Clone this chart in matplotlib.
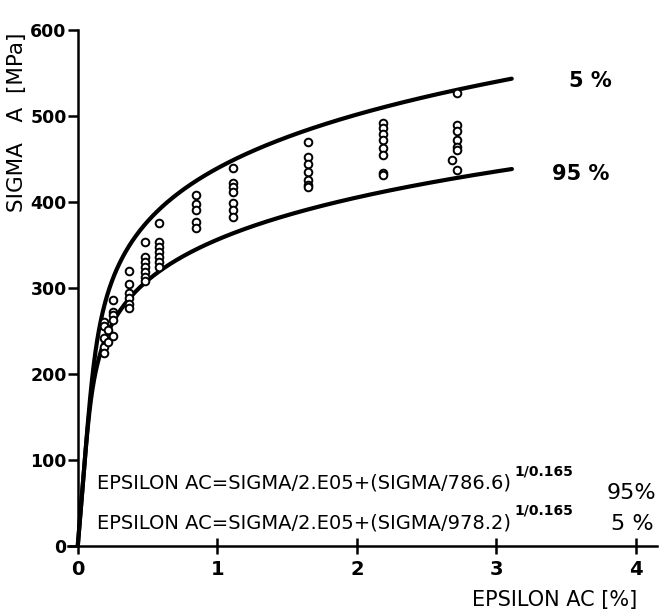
import numpy as np
import matplotlib.pyplot as plt

# fit constants written on the chart
E_MOD = 2.0e05
K_95 = 786.6
K_5 = 978.2
N_EXP = 0.165
EPS_END = 3.12   # curves stop here [%]

# test results, one column of points per strain level
col_eps = [0.19, 0.215, 0.25, 0.37, 0.48, 0.58, 0.85, 1.11, 1.65, 2.19, 2.68, 2.72]
col_sigma = [
    [260, 256, 242, 231, 224],
    [251, 237],
    [286, 272, 269, 263, 244],
    [320, 305, 294, 288, 281, 277],
    [353, 336, 330, 324, 319, 313, 308],
    [376, 353, 348, 342, 336, 330, 324],
    [408, 398, 391, 377, 370],
    [440, 422, 417, 412, 399, 391, 383],
    [470, 452, 444, 435, 426, 420, 417],
    [492, 486, 479, 472, 463, 455, 434, 431],
    [449],
    [527, 490, 483, 472, 464, 460, 437],
]

y_ticks = [0, 100, 200, 300, 400, 500, 600]
x_ticks = [0, 1, 2, 3, 4]


def strain(sigma, k):
    return (sigma / E_MOD + (sigma / k) ** (1 / N_EXP)) * 100


sigma_grid = np.linspace(0, 600, 1200)

fig = plt.figure(figsize=(6.68, 6.14), dpi=100)
ax = fig.add_axes([0.1018, 0.111, 0.8817, 0.840])

for k in (K_5, K_95):
    eps = strain(sigma_grid, k)
    keep = eps <= EPS_END
    ax.plot(eps[keep], sigma_grid[keep], color="black", lw=3.0,
            solid_capstyle="round", zorder=3)

for e, sig in zip(col_eps, col_sigma):
    ax.plot([e] * len(sig), sig, linestyle="none", marker="o",
            markersize=5.5, markerfacecolor="white", markeredgecolor="black",
            markeredgewidth=1.4, zorder=4)

ax.set_xlim(-0.07, 4.15)
ax.set_ylim(0, 600)
ax.spines["left"].set_position(("data", 0))
ax.spines["top"].set_visible(False)
ax.spines["right"].set_visible(False)
for s in ("left", "bottom"):
    ax.spines[s].set_linewidth(1.8)

ax.set_yticks(y_ticks)
ax.set_xticks(x_ticks)
ax.tick_params(axis="y", direction="out", length=7, width=1.8, pad=1,
               labelsize=12.5)
ax.tick_params(axis="x", direction="inout", length=12, width=1.8, pad=4,
               labelsize=14)
for lab in ax.get_xticklabels() + ax.get_yticklabels():
    lab.set_fontweight("bold")

# curve labels
ax.text(3.67, 541, "5 %", fontsize=15, fontweight="bold", ha="center", va="center")
ax.text(3.60, 432, "95 %", fontsize=15, fontweight="bold", ha="center", va="center")

# fit equations
t1 = ax.text(0.136, 73, "EPSILON AC=SIGMA/2.E05+(SIGMA/786.6)", fontsize=14,
             ha="left", va="center")
t2 = ax.text(0.136, 27, "EPSILON AC=SIGMA/2.E05+(SIGMA/978.2)", fontsize=14,
             ha="left", va="center")
for t in (t1, t2):
    ax.annotate("1/0.165", xy=(1, 0.75), xycoords=t, xytext=(3, 0),
                textcoords="offset points", fontsize=10, fontweight="bold",
                ha="left", va="bottom")
ax.text(3.97, 62, "95%", fontsize=16, ha="center", va="center")
ax.text(3.97, 25, "5 %", fontsize=16, ha="center", va="center")

# axis titles
fig.text(17 / 668, 1 - 122 / 614, "SIGMA   A  [MPa]", rotation=90,
         fontsize=15.5, ha="center", va="center")
fig.text(555 / 668, 1 - 600 / 614, "EPSILON AC [%]", fontsize=15,
         ha="center", va="center")

fig.savefig("out.png", dpi=100)
